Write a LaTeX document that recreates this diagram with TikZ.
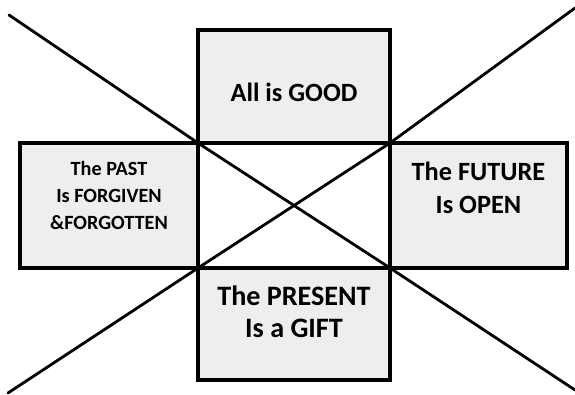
\documentclass[tikz,border=0pt]{standalone}
\usepackage{fontspec}
\setmainfont{Carlito}
\usetikzlibrary{positioning,calc}
\definecolor{pgfill}{HTML}{EEEEEE}
\tikzset{
  panel/.style   = {draw=black, fill=pgfill, line width=2pt, outer sep=0pt,
                    inner sep=0pt},
  wide/.style    = {panel, minimum width=3.84cm},
  side/.style    = {panel, minimum height=2.5cm},
  lbl/.style     = {font=\bfseries, align=center, inner sep=1pt},
  cross/.style   = {draw=black, line width=1.6pt, line cap=round},
}

\begin{document}
\begin{tikzpicture}
  \useasboundingbox (0,0) rectangle (11.5,7.88);

  % ---------- the four panels ------------------------------------------
  \node[wide, minimum height=2.26cm] (good)    at (5.88,6.15) {};
  \node[side, minimum width=3.56cm]  (past)    at (2.18,3.77) {};
  \node[side, minimum width=3.54cm]  (future)  at (9.57,3.77) {};
  \node[wide, minimum height=2.24cm] (present) at (5.88,1.40) {};

  % ---------- texts ------------------------------------------------------
  \node[lbl, font=\bfseries\fontsize{15}{18}\selectfont] (goodtxt)
    at ([yshift=-0.11cm]good.center) {All is GOOD};
  \node[lbl, font=\bfseries\fontsize{11.5}{15.3}\selectfont] (pasttxt)
    at ([yshift=0.2cm]past.center) {The PAST\\ Is FORGIVEN\\ \&FORGOTTEN};
  \node[lbl, font=\bfseries\fontsize{15}{18.7}\selectfont] (futuretxt)
    at ([yshift=0.35cm]future.center) {The FUTURE\\ Is OPEN};
  \node[lbl, font=\bfseries\fontsize{16}{18}\selectfont] (presenttxt)
    at ([yshift=0.24cm]present.center) {The PRESENT\\ Is a GIFT};

  % ---------- the two diagonals ----------------------------------------
  \coordinate (nw) at (0.18,7.58);
  \coordinate (se) at (11.5,0.08);
  \coordinate (sw) at (0.16,0.02);
  \coordinate (ne) at (11.5,7.72);
  \draw[cross] (nw) -- (good.south west) -- (present.north east) -- (se);
  \draw[cross] (sw) -- (present.north west) -- (good.south east) -- (ne);

\end{tikzpicture}
\end{document}
